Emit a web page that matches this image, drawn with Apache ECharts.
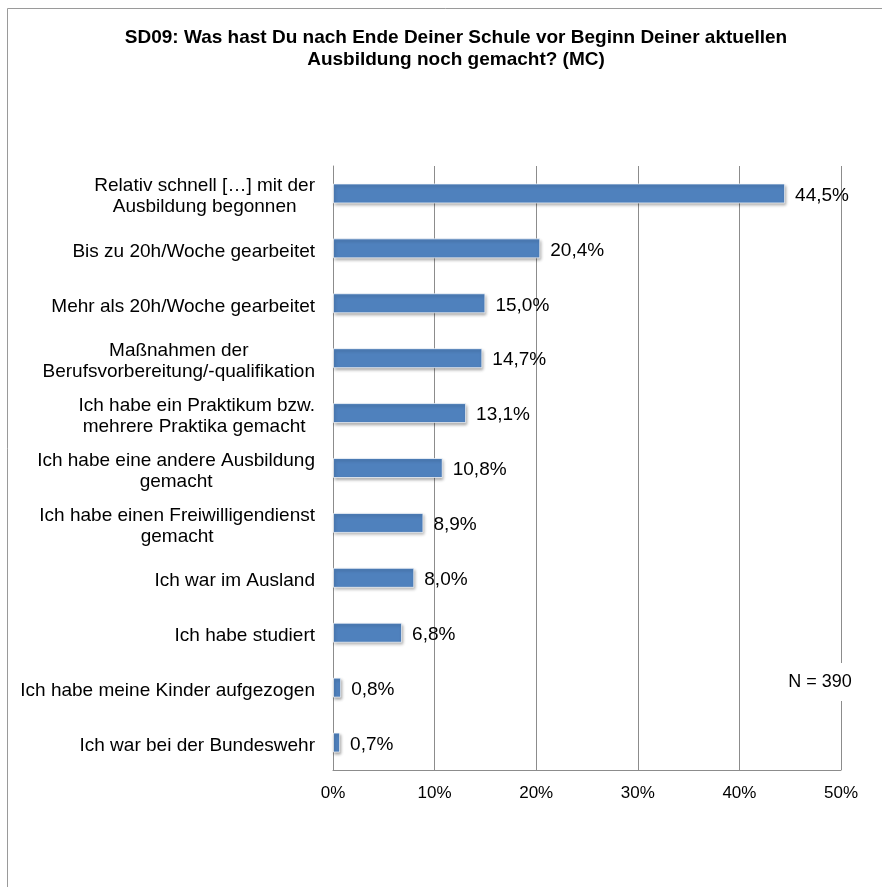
<!DOCTYPE html>
<html>
<head>
<meta charset="utf-8">
<script src="https://cdn.jsdelivr.net/npm/echarts@6/dist/echarts.min.js"></script>
<style>
  html, body { margin: 0; padding: 0; background: #fff; }
  #chart { width: 882px; height: 887px; }
</style>
</head>
<body>
<div id="chart"></div>
<script>
// Answer categories, top to bottom (line breaks as shown on the axis)
const categories = [
  'Relativ schnell […] mit der\nAusbildung begonnen',
  'Bis zu 20h/Woche gearbeitet',
  'Mehr als 20h/Woche gearbeitet',
  'Maßnahmen der\nBerufsvorbereitung/-qualifikation',
  'Ich habe ein Praktikum bzw.\nmehrere Praktika gemacht ',
  'Ich habe eine andere Ausbildung\ngemacht',
  'Ich habe einen Freiwilligendienst\ngemacht',
  'Ich war im Ausland',
  'Ich habe studiert',
  'Ich habe meine Kinder aufgezogen',
  'Ich war bei der Bundeswehr'
];
// Share of respondents in percent
const shares = [44.5, 20.4, 15.0, 14.7, 13.1, 10.8, 8.9, 8.0, 6.8, 0.8, 0.7];
// Value axis ticks (percent)
const axisTicks = [0, 10, 20, 30, 40, 50];

const titleText = 'SD09: Was hast Du nach Ende Deiner Schule vor Beginn Deiner aktuellen\nAusbildung noch gemacht? (MC)';
const sampleNote = 'N = 390';

const FONT = '"Liberation Sans", Arial, sans-serif';
const GRID_GRAY = '#8c8c8c';

const chart = echarts.init(document.getElementById('chart'), null, { renderer: 'canvas' });

const fmtPct = v => v.toFixed(1).replace('.', ',') + '%';

chart.setOption({
  backgroundColor: '#ffffff',
  animation: false,
  title: {
    text: titleText,
    left: 451,
    textAlign: 'center',
    top: 22,
    textStyle: {
      fontFamily: FONT,
      fontSize: 19,
      fontWeight: 'bold',
      color: '#000',
      lineHeight: 22
    }
  },
  grid: { left: 333, right: 41, top: 166, bottom: 117, containLabel: false },
  xAxis: {
    type: 'value',
    min: axisTicks[0],
    max: axisTicks[axisTicks.length - 1],
    interval: axisTicks[1] - axisTicks[0],
    axisLine: { show: true, lineStyle: { color: GRID_GRAY, width: 1 } },
    axisTick: { show: false },
    splitLine: { show: true, lineStyle: { color: GRID_GRAY, width: 1 } },
    axisLabel: {
      margin: 15,
      fontFamily: FONT,
      fontSize: 17,
      color: '#000',
      formatter: v => v + '%'
    }
  },
  yAxis: {
    type: 'category',
    data: categories,
    inverse: true,
    axisLine: { show: true, lineStyle: { color: GRID_GRAY, width: 1 } },
    axisTick: { show: false },
    axisLabel: {
      margin: 18,
      align: 'right',
      padding: [6, 0, 0, 0],
      fontFamily: FONT,
      fontSize: 19,
      color: '#000',
      formatter: s => s.split('\n').map(line => '{c|' + line + '}').join('\n'),
      rich: {
        c: { align: 'center', fontFamily: FONT, fontSize: 19, color: '#000', lineHeight: 21 }
      }
    }
  },
  series: [{
    type: 'bar',
    data: shares,
    barWidth: 20,
    itemStyle: {
      color: '#4f81bd',
      borderColor: 'rgba(255,255,255,0.7)',
      borderWidth: 1,
      shadowColor: 'rgba(0,0,0,0.35)',
      shadowBlur: 3,
      shadowOffsetX: 1,
      shadowOffsetY: 2
    },
    label: {
      show: true,
      position: 'right',
      distance: 10,
      fontFamily: FONT,
      fontSize: 19,
      color: '#000',
      offset: [0, 2],
      formatter: p => fmtPct(p.value)
    }
  }],
  graphic: [
    {
      type: 'rect',
      shape: { x: 7.5, y: 8.5, width: 900, height: 900 },
      style: { fill: 'none', stroke: '#9a9a9a', lineWidth: 1 },
      silent: true,
      z: 0
    },
    {
      type: 'text',
      x: 820,
      y: 682,
      style: {
        text: sampleNote,
        font: '18px ' + FONT,
        fill: '#000',
        align: 'center',
        verticalAlign: 'middle',
        backgroundColor: '#fff',
        padding: [10, 3, 10, 3]
      },
      z: 10
    }
  ]
});
</script>
</body>
</html>
